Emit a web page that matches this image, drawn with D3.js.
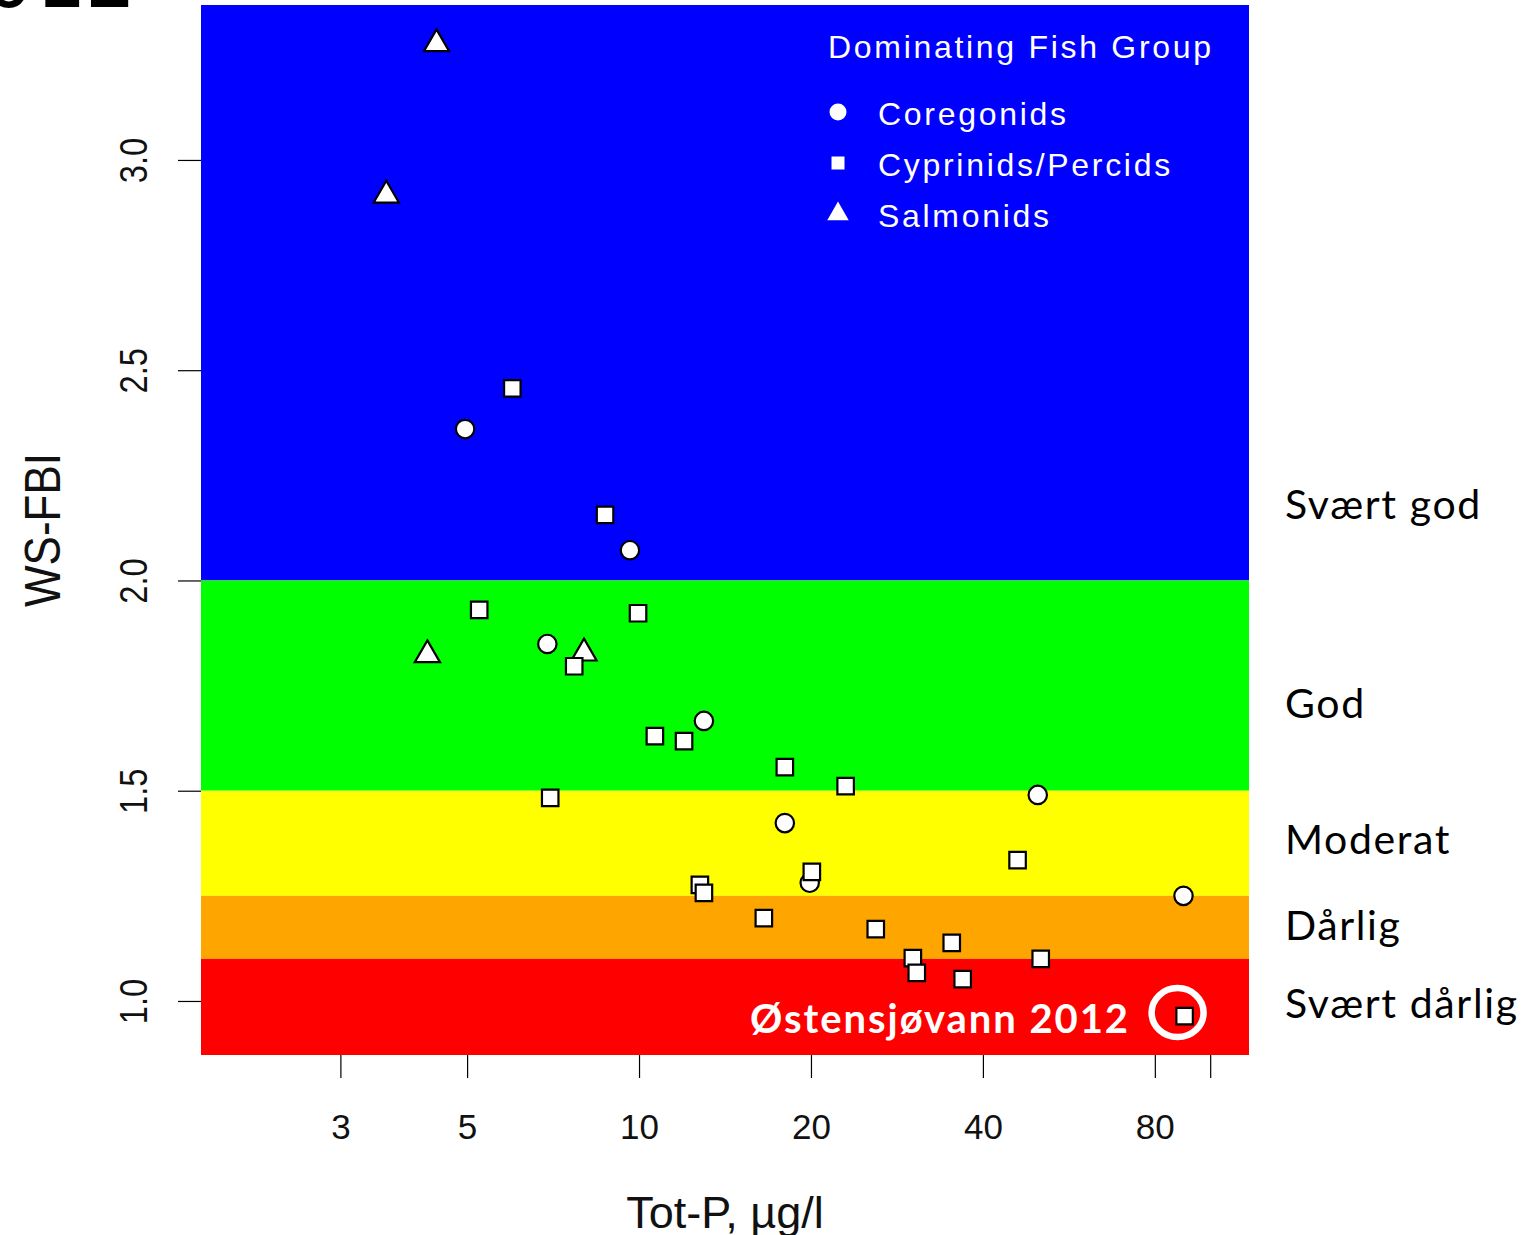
<!DOCTYPE html>
<html>
<head>
<meta charset="utf-8">
<script src="https://cdn.jsdelivr.net/npm/d3@7"></script>
<style>
  body { margin: 0; background: #fff; }
  svg { display: block; }
</style>
</head>
<body>
<svg id="chart" width="1533" height="1235"></svg>
<script>
// ---- Data: WS-FBI index against total phosphorus, by dominating fish group ----
const coregonidsTP  = [4.96, 9.64, 6.91, 12.99, 18.0, 49.9, 89.8, 19.9];
const coregonidsFBI = [2.360, 2.072, 1.849, 1.666, 1.423, 1.490, 1.250, 1.281];

const salmonidsTP  = [4.42, 3.61, 4.26, 8.01];
const salmonidsFBI = [3.276, 2.916, 1.823, 1.827];

const cyprinidsTP  = [6.00, 8.72, 5.25, 9.96, 7.70, 10.66, 11.99, 6.99, 18.0, 23.0, 46.0,
                      20.07, 12.78, 12.99, 16.54, 25.97, 35.28, 30.16, 30.64, 36.87, 50.5, 90.2];
const cyprinidsFBI = [2.457, 2.156, 1.930, 1.922, 1.796, 1.630, 1.618, 1.483, 1.556, 1.511, 1.335,
                      1.307, 1.276, 1.257, 1.197, 1.171, 1.138, 1.102, 1.067, 1.052, 1.100, 0.964];

// Status classes: lower boundary of each class (last class is open-ended)
const classNames  = ["Svært god", "God", "Moderat", "Dårlig", "Svært dårlig"];
const classBreaks = [2.0, 1.5, 1.25, 1.1];

// Axis ticks
const xTickValues = [3, 5, 10, 20, 40, 80, 100];
const xTickLabels = ["3", "5", "10", "20", "40", "80", ""];
const yTickValues = [1.0, 1.5, 2.0, 2.5, 3.0];

const legendTitle  = "Dominating Fish Group";
const legendGroups = ["Coregonids", "Cyprinids/Percids", "Salmonids"];

const highlightLabel = "Østensjøvann 2012";

// ---- Layout & style ----
const classColors = ["#0000ff", "#00ff00", "#ffff00", "#ffa500", "#ff0000"];
const classLabelY = [2.146, 1.673, 1.349, 1.145, 0.960];   // label baselines, in index units
const plot = { left: 201, right: 1249, top: 5, bottom: 1055 };
const axisFont = "'Liberation Sans', Arial, sans-serif";
const labelFont = "Lato, 'Open Sans', sans-serif";

const svg = d3.select("#chart");

// Scales padded 4% like a base-graphics plot
const xl = [Math.log10(2), Math.log10(100)];
const xpad = (xl[1] - xl[0]) * 0.04;
const x = d3.scaleLog()
  .domain([Math.pow(10, xl[0] - xpad), Math.pow(10, xl[1] + xpad)])
  .range([plot.left, plot.right]);

const allFBI = coregonidsFBI.concat(salmonidsFBI, cyprinidsFBI);
const [ymin, ymax] = d3.extent(allFBI);
const ypad = (ymax - ymin) * 0.04;
const y = d3.scaleLinear()
  .domain([ymin - ypad, ymax + ypad])
  .range([plot.bottom, plot.top]);

// ---- Class bands ----
const bandEdges = [y.domain()[1], ...classBreaks, y.domain()[0]];
svg.append("g").selectAll("rect")
  .data(classColors)
  .join("rect")
  .attr("x", plot.left)
  .attr("width", plot.right - plot.left)
  .attr("y", (d, i) => y(bandEdges[i]))
  .attr("height", (d, i) => y(bandEdges[i + 1]) - y(bandEdges[i]))
  .attr("fill", d => d);

// ---- Axes ----
const xAxis = svg.append("g")
  .attr("transform", `translate(0,${plot.bottom})`)
  .call(d3.axisBottom(x).tickValues(xTickValues)
    .tickFormat((d, i) => xTickLabels[i]).tickSize(23))
  .call(g => g.select(".domain").remove());
xAxis.selectAll(".tick line").attr("stroke", "#000").attr("stroke-width", 1.2);
xAxis.selectAll(".tick text")
  .attr("y", 84).attr("dy", 0)
  .attr("font-family", axisFont).attr("font-size", 35).attr("fill", "#111");

const yAxis = svg.append("g")
  .attr("transform", `translate(${plot.left},0)`)
  .call(d3.axisLeft(y).tickValues(yTickValues).tickFormat(d3.format(".1f")).tickSize(23))
  .call(g => g.select(".domain").remove());
yAxis.selectAll(".tick line").attr("stroke", "#000").attr("stroke-width", 1.2);
// rotated tick labels, set slightly narrow along the reading direction
yAxis.selectAll(".tick text")
  .attr("transform", "translate(-54,0) rotate(-90) scale(0.86,1)")
  .attr("x", 0).attr("y", 0).attr("dy", 0)
  .attr("text-anchor", "middle")
  .attr("font-family", axisFont).attr("font-size", 38).attr("fill", "#111");

// Axis titles
svg.append("text")
  .attr("x", (plot.left + plot.right) / 2).attr("y", 1228)
  .attr("text-anchor", "middle")
  .attr("font-family", axisFont).attr("font-size", 45).attr("fill", "#111")
  .text("Tot-P, µg/l");

svg.append("text")
  .attr("transform", `translate(60,${(plot.top + plot.bottom) / 2}) rotate(-90) scale(0.88,1)`)
  .attr("text-anchor", "middle")
  .attr("font-family", axisFont).attr("font-size", 50).attr("fill", "#111")
  .text("WS-FBI");

// ---- Points ----
const circleSym = d3.symbol(d3.symbolCircle, Math.PI * 9.2 * 9.2)();
const squareSym = d3.symbol(d3.symbolSquare, 16.5 * 16.5)();
const triSym    = d3.symbol(d3.symbolTriangle, 275)();

function drawGroup(tp, fbi, path) {
  svg.append("g").selectAll("path")
    .data(d3.zip(tp, fbi))
    .join("path")
    .attr("d", path)
    .attr("transform", d => `translate(${x(d[0])},${y(d[1])})`)
    .attr("fill", "#fff")
    .attr("stroke", "#000")
    .attr("stroke-width", 2.2);
}
drawGroup(coregonidsTP, coregonidsFBI, circleSym);
drawGroup(salmonidsTP, salmonidsFBI, triSym);
drawGroup(cyprinidsTP, cyprinidsFBI, squareSym);

// ---- Legend ----
const legend = svg.append("g").attr("fill", "#fff")
  .attr("font-family", axisFont).attr("font-size", 32).attr("letter-spacing", 2.7);
legend.append("text").attr("x", 828).attr("y", 58).text(legendTitle);
const legendSyms = [
  d3.symbol(d3.symbolCircle, Math.PI * 8.5 * 8.5)(),
  d3.symbol(d3.symbolSquare, 13 * 13)(),
  d3.symbol(d3.symbolTriangle, 200)()
];
const legendRows = [112, 163, 214];
legendGroups.forEach((name, i) => {
  legend.append("path").attr("d", legendSyms[i])
    .attr("transform", `translate(838,${legendRows[i]})`);
  legend.append("text").attr("x", 878).attr("y", legendRows[i] + 13).text(name);
});

// ---- Class labels on the right ----
const classText = svg.append("g")
  .attr("font-family", labelFont).attr("font-size", 41).attr("fill", "#000");
classText.selectAll("text")
  .data(classNames)
  .join("text")
  .attr("x", 1285)
  .attr("y", (d, i) => y(classLabelY[i]))
  .text(d => d);
// spread letters to the width of the longest label
{
  const last = classText.selectAll("text").nodes()[classNames.length - 1];
  const w = last.getComputedTextLength();
  const sp = (232 - w) / (classNames[classNames.length - 1].length - 1);
  classText.attr("letter-spacing", sp.toFixed(2));
}

// ---- Highlighted lake ----
const hl = [cyprinidsTP[cyprinidsTP.length - 1], cyprinidsFBI[cyprinidsFBI.length - 1]];
svg.append("ellipse")
  .attr("cx", x(hl[0]) - 7).attr("cy", y(hl[1]) - 3.5)
  .attr("rx", 26).attr("ry", 24.5)
  .attr("fill", "none").attr("stroke", "#fff").attr("stroke-width", 6.5);
const hlText = svg.append("text")
  .attr("x", 750).attr("y", 1033)
  .attr("font-family", labelFont).attr("font-weight", 700).attr("font-size", 40)
  .attr("fill", "#fff")
  .text(highlightLabel);
{
  const w = hlText.node().getComputedTextLength();
  hlText.attr("letter-spacing", ((378 - w) / (highlightLabel.length - 1)).toFixed(2));
}

// ---- Title fragment along the top edge ----
svg.append("text")
  .attr("x", -67).attr("y", 7)
  .attr("font-family", "'DejaVu Sans Mono', monospace").attr("font-size", 84)
  .attr("fill", "#000")
  .text("2012");
</script>
</body>
</html>
